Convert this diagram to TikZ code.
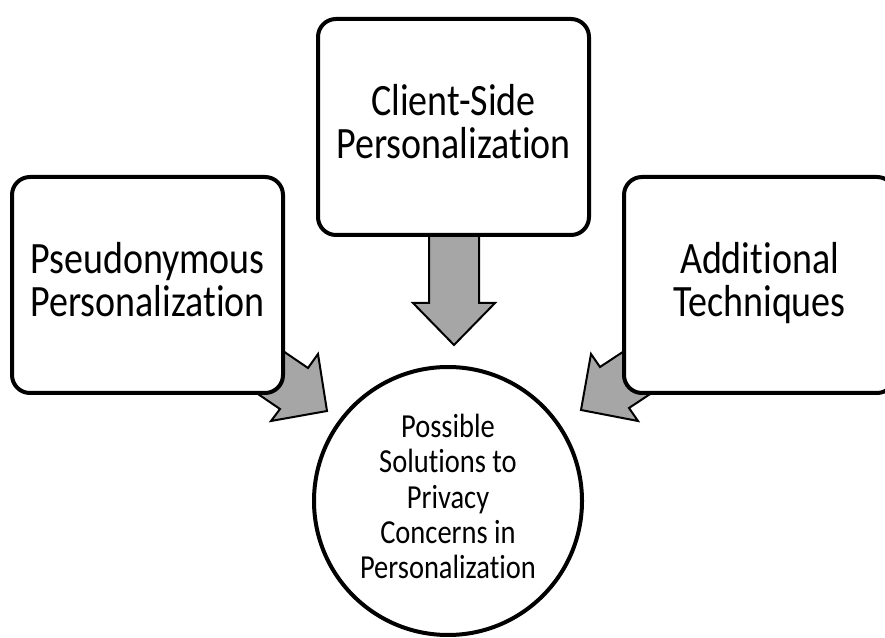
\documentclass[tikz,border=0pt]{standalone}
\usepackage{fontspec}
\setmainfont{Carlito}[Ligatures=NoCommon]
\usepackage{graphicx}
\usetikzlibrary{positioning}
\definecolor{arrowgray}{RGB}{166,166,166}
\newcommand{\tallstack}[1]{\scalebox{1}[1.18]{\begin{tabular}{@{}c@{}}#1\end{tabular}}}

\begin{document}
\begin{tikzpicture}[x=1pt, y=1pt,
    topic/.style={draw, fill=white, line width=4pt, rounded corners=18pt, minimum width=271pt, minimum height=216pt, inner sep=0pt, outer sep=0pt, font=\fontsize{38}{33}\selectfont},
    goal/.style={draw, fill=white, circle, line width=4pt, minimum size=268pt, inner sep=0pt, outer sep=0pt, font=\fontsize{28.5}{29.7}\selectfont},
    push/.style={draw, fill=arrowgray, line width=2pt, line join=miter}]
    \clip (0,0) rectangle (885,637);

    % block arrows, drawn first so the boxes cover their tails
    \path[push] (429,407) -- (429,334) -- (413,334) -- (454,292) -- (495,334) -- (479,334) -- (479,407) -- cycle;
    \path[push] (258,303) -- (308,269) -- (318,283) -- (327,226) -- (271,216) -- (280,228) -- (230,262) -- cycle;
    \path[push] (650,303) -- (600,270) -- (591,283) -- (581,227) -- (638,216) -- (629,229) -- (679,262) -- cycle;

    \node[topic] (client) at (453.5,510) {\tallstack{Client-Side\\Personalization}};
    \node[topic, below left=-58pt and 35pt of client] (pseudo) {\tallstack{Pseudonymous\\Personalization}};
    \node[topic, below right=-58pt and 35pt of client] (extra) {\tallstack{Additional\\Techniques}};

    \node[goal] (solutions) at (448,136) {\tallstack{Possible\\Solutions to\\Privacy\\Concerns in\\Personalization}};
\end{tikzpicture}
\end{document}
